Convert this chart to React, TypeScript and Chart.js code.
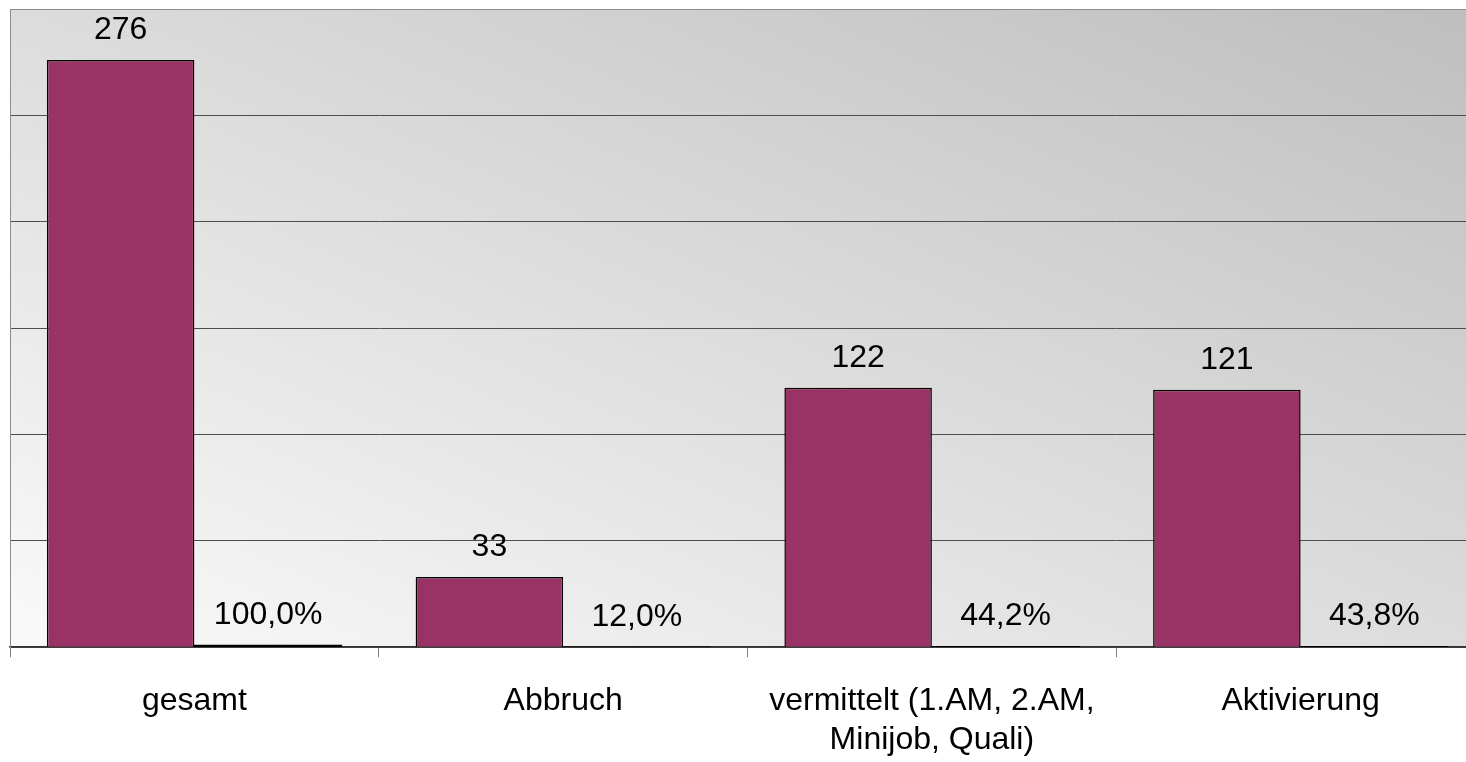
import React, { useEffect, useRef } from "react";
import { Chart, registerables } from "chart.js";

Chart.register(...registerables);

const categories: (string | string[])[] = [
  "gesamt",
  "Abbruch",
  ["vermittelt (1.AM, 2.AM,", "Minijob, Quali)"],
  "Aktivierung",
];
const countValues = [276, 33, 122, 121];
const shareValues = [1.0, 0.12, 0.442, 0.438];
const yMax = 300;
const yStep = 50;

const FONT = "'Liberation Sans', Arial, Helvetica, sans-serif";

const backgroundPlugin = {
  id: "plotBackground",
  beforeDraw(chart: any) {
    const { ctx, chartArea } = chart;
    if (!chartArea) return;
    const { left, top, right, bottom } = chartArea;
    const W = right - left;
    const H = bottom - top;
    const cx = (left + right) / 2;
    const cy = (top + bottom) / 2;
    const k = (W * H) / (W * W + H * H);
    const g = ctx.createLinearGradient(cx - H * k, cy + W * k, cx + H * k, cy - W * k);
    g.addColorStop(0, "#fafafa");
    g.addColorStop(1, "#bebebe");
    ctx.save();
    ctx.fillStyle = g;
    ctx.fillRect(left, top, W, H);
    ctx.restore();
  },
};

const labelPlugin = {
  id: "valueLabels",
  afterDatasetsDraw(chart: any) {
    const { ctx } = chart;
    ctx.save();
    ctx.font = `32px ${FONT}`;
    ctx.fillStyle = "#000";
    ctx.textAlign = "center";
    ctx.textBaseline = "alphabetic";
    chart.data.datasets.forEach((ds: any, di: number) => {
      const meta = chart.getDatasetMeta(di);
      meta.data.forEach((bar: any, i: number) => {
        const v = ds.data[i];
        const text =
          di === 0 ? String(v) : (v * 100).toFixed(1).replace(".", ",") + "%";
        ctx.fillText(text, bar.x, bar.y - 21);
      });
    });
    ctx.restore();
  },
};

export default function App() {
  const canvasRef = useRef<HTMLCanvasElement | null>(null);

  useEffect(() => {
    if (!canvasRef.current) return;
    const chart = new Chart(canvasRef.current, {
      type: "bar",
      data: {
        labels: categories,
        datasets: [
          {
            label: "Anzahl",
            data: countValues,
            backgroundColor: "#993366",
            borderColor: "#000",
            borderWidth: 1.5,
            categoryPercentage: 0.8,
            barPercentage: 1.0,
          },
          {
            label: "Anteil",
            data: shareValues,
            backgroundColor: "#000",
            borderColor: "#000",
            borderWidth: 0,
            inflateAmount: 0.3,
            categoryPercentage: 0.8,
            barPercentage: 1.0,
          },
        ],
      },
      options: {
        animation: false,
        responsive: true,
        maintainAspectRatio: false,
        layout: { padding: { left: 10, top: 9, right: 5, bottom: 0 } },
        plugins: {
          legend: { display: false },
          tooltip: { enabled: false },
        },
        scales: {
          x: {
            offset: true,
            grid: {
              display: true,
              offset: true,
              drawOnChartArea: false,
              drawTicks: true,
              tickLength: 10,
              color: "#808080",
            },
            border: { display: true, color: "#333", width: 1.5 },
            ticks: {
              color: "#000",
              font: { family: FONT, size: 32 },
              padding: 25,
              maxRotation: 0,
              minRotation: 0,
              autoSkip: false,
            },
          },
          y: {
            min: 0,
            max: yMax,
            ticks: { display: false, stepSize: yStep },
            grid: {
              drawTicks: false,
              color: (c: any) =>
                c.tick && c.tick.value === yMax ? "#8c8c8c" : "#4d4d4d",
            },
            border: { display: true, color: "#8c8c8c" },
          },
        },
      },
      plugins: [backgroundPlugin, labelPlugin],
    });
    return () => chart.destroy();
  }, []);

  return (
    <div
      style={{
        position: "fixed",
        left: 0,
        top: 0,
        width: 1466,
        height: 762,
        overflow: "hidden",
        background: "#fff",
      }}
    >
      <div style={{ position: "absolute", left: 0, top: 0, width: 1490, height: 784 }}>
        <canvas ref={canvasRef} />
      </div>
    </div>
  );
}
